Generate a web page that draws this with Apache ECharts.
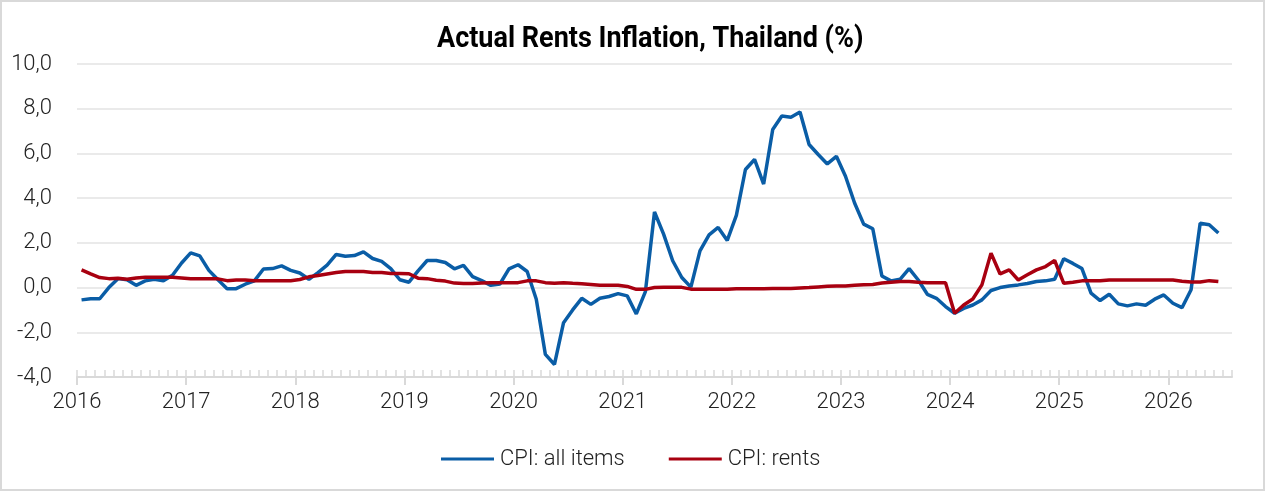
<!DOCTYPE html>
<html>
<head>
<meta charset="utf-8">
<script src="https://cdn.jsdelivr.net/npm/echarts@6/dist/echarts.min.js"></script>
<style>
	html, body { margin: 0; padding: 0; background: #fff; }
	#wrap { position: relative; width: 1265px; height: 491px; }
	#chart { position: absolute; left: 0; top: 0; width: 1265px; height: 491px; }
	#frame { position: absolute; left: 0; top: 0; width: 1265px; height: 491px; box-sizing: border-box; border: 2px solid #d9d9d9; pointer-events: none; }
</style>
</head>
<body>
<div id="wrap">
	<div id="chart"></div>
	<div id="frame"></div>
</div>
<script>
	// monthly, Jan 2016 .. Jun 2026 (the axis runs to Jul 2026)
	var startYear = 2016;
	var monthCount = 127;
	var yearTicks = [0, 12, 24, 36, 48, 60, 72, 84, 96, 108, 120];

	var cpiAll = [
		-0.55, -0.5, -0.5, 0.0, 0.4, 0.35, 0.1, 0.3, 0.37, 0.3, 0.55, 1.1,
		1.55, 1.42, 0.77, 0.35, -0.05, -0.05, 0.15, 0.3, 0.83, 0.85, 0.97, 0.77,
		0.65, 0.37, 0.67, 1.0, 1.48, 1.4, 1.43, 1.6, 1.3, 1.17, 0.85, 0.35,
		0.24, 0.75, 1.21, 1.21, 1.12, 0.84, 0.99, 0.49, 0.31, 0.1, 0.16, 0.84,
		1.02, 0.72, -0.52, -2.99, -3.44, -1.57, -1.0, -0.48, -0.75, -0.48, -0.4, -0.27,
		-0.37, -1.18, -0.18, 3.38, 2.39, 1.2, 0.45, 0.02, 1.64, 2.36, 2.69, 2.11,
		3.23, 5.28, 5.73, 4.63, 7.07, 7.67, 7.62, 7.85, 6.4, 5.95, 5.53, 5.87,
		4.98, 3.78, 2.84, 2.63, 0.52, 0.3, 0.37, 0.85, 0.34, -0.3, -0.48, -0.85,
		-1.15, -0.93, -0.78, -0.55, -0.13, 0.0, 0.07, 0.12, 0.18, 0.27, 0.3, 0.37,
		1.29, 1.08, 0.85, -0.25, -0.58, -0.3, -0.73, -0.82, -0.73, -0.79, -0.52, -0.33,
		-0.7, -0.9, -0.1, 2.88, 2.81, 2.44
	];
	var cpiRents = [
		0.79, 0.61, 0.45, 0.4, 0.42, 0.37, 0.43, 0.46, 0.46, 0.46, 0.46, 0.43,
		0.39, 0.39, 0.39, 0.39, 0.31, 0.34, 0.34, 0.31, 0.31, 0.31, 0.31, 0.31,
		0.36, 0.48, 0.54, 0.61, 0.67, 0.72, 0.72, 0.72, 0.67, 0.67, 0.63, 0.63,
		0.62, 0.42, 0.4, 0.33, 0.29, 0.2, 0.18, 0.18, 0.2, 0.22, 0.22, 0.22,
		0.22, 0.3, 0.3, 0.22, 0.19, 0.22, 0.19, 0.17, 0.14, 0.1, 0.1, 0.1,
		0.05, -0.08, -0.08, 0.0, 0.01, 0.01, 0.01, -0.07, -0.08, -0.08, -0.08, -0.08,
		-0.05, -0.05, -0.05, -0.05, -0.04, -0.04, -0.04, -0.02, 0.0, 0.03, 0.06, 0.07,
		0.07, 0.1, 0.13, 0.14, 0.2, 0.24, 0.27, 0.27, 0.24, 0.22, 0.22, 0.22,
		-1.15, -0.78, -0.51, 0.12, 1.54, 0.61, 0.79, 0.34, 0.57, 0.79, 0.94, 1.21,
		0.19, 0.24, 0.3, 0.3, 0.3, 0.34, 0.34, 0.34, 0.34, 0.34, 0.34, 0.34,
		0.34, 0.28, 0.25, 0.25, 0.31, 0.27
	];

	var months = [];
	for (var m = 0; m < monthCount; m++) {
		months.push((startYear + Math.floor(m / 12)) + '-' + (m % 12 + 1));
	}
	// point i sits in the middle of its month slot
	function toPairs(arr) {
		return arr.map(function(v, i) { return [i + 0.5, v]; });
	}

	var font = 'Roboto';
	var myChart = echarts.init(document.getElementById('chart'));
	var option = {
		animation: false,
		// title drawn as graphic text so it can be narrowed a bit like the original
		graphic: [{
			type: 'text',
			x: 437,
			y: 24,
			scaleX: 0.9,
			style: {
				text: 'Actual Rents Inflation, Thailand (%)',
				font: 'bold 30px Roboto',
				fill: '#000',
				textVerticalAlign: 'top'
			}
		}],
		legend: {
			left: 436,
			top: 443,
			itemWidth: 53,
			itemHeight: 3,
			itemGap: 44,
			icon: 'rect',
			textStyle: { fontFamily: font, fontWeight: 300, fontSize: 22, color: '#222', padding: [0, 0, 0, 1] },
			data: ['CPI: all items', 'CPI: rents']
		},
		grid: { left: 77, right: 33, top: 64, bottom: 114 },
		xAxis: [{
			// month slots: minor ticks
			type: 'category',
			position: 'bottom',
			data: months,
			boundaryGap: true,
			axisLine: { onZero: false, lineStyle: { color: '#d9d9d9', width: 2 } },
			axisTick: { show: true, interval: 0, inside: true, length: 7, lineStyle: { color: '#d9d9d9', width: 1.5 } },
			axisLabel: { show: false },
			splitLine: { show: false }
		}, {
			// years: major ticks and labels
			type: 'value',
			position: 'bottom',
			min: 0,
			max: monthCount,
			axisLine: { show: false, onZero: false },
			axisTick: { show: true, length: 8, customValues: yearTicks, lineStyle: { color: '#d9d9d9', width: 2 } },
			axisLabel: {
				customValues: yearTicks,
				margin: 14,
				fontFamily: font, fontWeight: 300, fontSize: 22, color: '#222',
				formatter: function(v) { return String(startYear + v / 12); }
			},
			splitLine: { show: false }
		}],
		yAxis: {
			type: 'value',
			min: -4,
			max: 10,
			interval: 2,
			axisLine: { show: false },
			axisTick: { show: false },
			axisLabel: {
				margin: 25,
				fontFamily: font, fontWeight: 300, fontSize: 22, color: '#222',
				formatter: function(v) { return v.toFixed(1).replace('.', ','); }
			},
			splitLine: { lineStyle: { color: '#e3e3e3', width: 1.5 } }
		},
		series: [{
			name: 'CPI: all items',
			type: 'line',
			xAxisIndex: 1,
			data: toPairs(cpiAll),
			symbol: 'none',
			itemStyle: { color: '#0a5da6' },
			lineStyle: { color: '#0a5da6', width: 3.5 }
		}, {
			name: 'CPI: rents',
			type: 'line',
			xAxisIndex: 1,
			data: toPairs(cpiRents),
			symbol: 'none',
			itemStyle: { color: '#a80010' },
			lineStyle: { color: '#a80010', width: 3.5 }
		}]
	};
	myChart.setOption(option);
</script>
</body>
</html>
